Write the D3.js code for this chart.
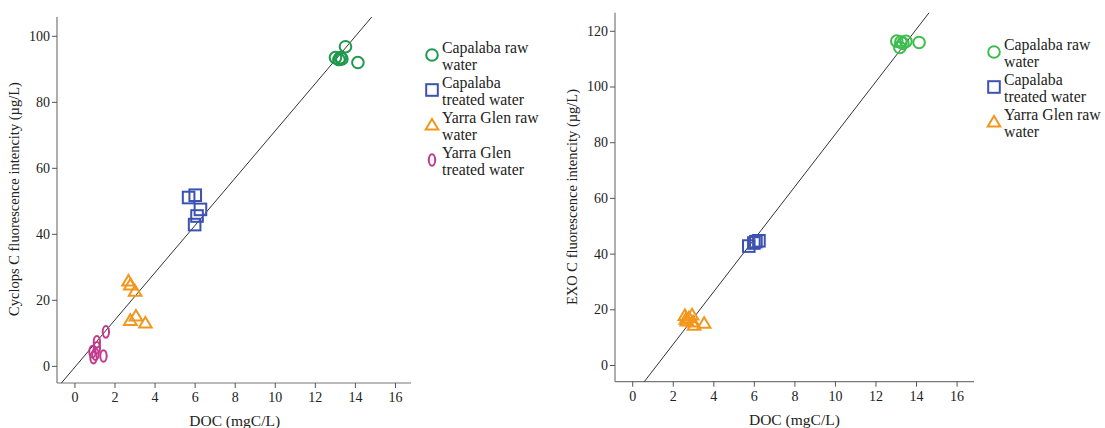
<!DOCTYPE html>
<html><head><meta charset="utf-8">
<script src="https://cdn.jsdelivr.net/npm/d3@7"></script>
<style>body{margin:0;background:#fff}svg{display:block}text{font-family:"Liberation Serif","Times New Roman",serif;fill:#222}</style>
</head><body><svg id="c" width="1105" height="428"></svg>
<script>
// ---- data ----
const xTicks = [0,2,4,6,8,10,12,14,16];
const cyclopsYTicks = [0,20,40,60,80,100];
const exoYTicks = [0,20,40,60,80,100,120];

const cycCapRaw = [[13.03,93.4],[13.2,92.8],[13.28,93.4],[13.35,93.0],[13.53,96.7],[14.15,91.9]];
const cycCapTreated = [[5.7,51.0],[6.03,51.7],[6.29,47.4],[6.12,45.4],[6.0,42.8]];
const cycYGRaw = [[2.7,25.7],[2.79,24.5],[3.03,22.6],[2.79,13.8],[3.07,15.1],[3.54,13.0]];
const cycYGTreated = [[1.57,10.3],[1.12,7.3],[1.12,5.5],[0.9,4.3],[1.05,3.5],[0.95,2.5],[1.45,3.0]];
const cycFit = [7.16,-0.55]; // slope, intercept

const exoCapRaw = [[13.05,116.3],[13.25,116.0],[13.5,116.2],[13.2,114.0],[13.35,115.5],[14.15,115.8]];
const exoCapTreated = [[5.75,42.7],[6.0,43.8],[6.1,44.3],[6.25,44.6]];
const exoYGRaw = [[2.6,17.8],[2.65,16.5],[2.7,15.8],[2.8,17.0],[2.95,18.0],[3.0,15.5],[3.05,14.3],[3.55,15.0]];
const exoFit = [9.43,-11.6];

const svg = d3.select("#c");
const FONT = '"Liberation Serif","Times New Roman",serif';

function panel(o){
  const g = svg.append("g");
  const x = d3.scaleLinear().domain(o.xd).range([o.left,o.right]);
  const y = d3.scaleLinear().domain(o.yd).range([o.bottom,o.top]);
  const id = "clip"+o.id;
  svg.append("clipPath").attr("id",id).append("rect")
    .attr("x",o.left).attr("y",o.top).attr("width",o.right-o.left).attr("height",o.bottom-o.top);
  // axes
  const xa = g.append("g").attr("transform",`translate(0,${o.bottom})`)
    .call(d3.axisBottom(x).tickValues(xTicks).tickSize(5).tickSizeOuter(0).tickPadding(4));
  const ya = g.append("g").attr("transform",`translate(${o.left},0)`)
    .call(d3.axisLeft(y).tickValues(o.yTicks).tickSize(5).tickSizeOuter(0).tickPadding(2));
  [xa,ya].forEach(a=>{
    a.select(".domain").attr("stroke","#777").attr("stroke-width",1.2);
    a.selectAll(".tick line").attr("stroke","#555").attr("stroke-width",1);
    a.selectAll("text").attr("font-family",FONT).attr("font-size",14).attr("fill","#222");
  });
  xa.select(".domain").attr("d",`M${o.left},0H${o.right}`);
  ya.select(".domain").attr("d",`M0,${o.top}V${o.bottom}`);
  // titles
  g.append("text").attr("x",(x(0)+x(16))/2+o.xtOff).attr("y",o.bottom+43)
    .attr("text-anchor","middle").attr("font-size",15.5).text("DOC (mgC/L)");
  g.append("text").attr("transform",`translate(${o.ytx},${o.ytc}) rotate(-90)`)
    .attr("text-anchor","middle").attr("font-size",14.5).text(o.ytitle);
  // fit line
  const [m,b] = o.fit;
  g.append("line").attr("clip-path",`url(#${id})`)
    .attr("x1",x(o.xd[0])).attr("y1",y(m*o.xd[0]+b))
    .attr("x2",x(o.xd[1])).attr("y2",y(m*o.xd[1]+b))
    .attr("stroke","#333").attr("stroke-width",1);
  // points
  o.series.forEach(s=>{
    s.data.forEach(d=>drawMarker(g,s.shape,x(d[0]),y(d[1]),s.color));
  });
  // legend
  o.series.forEach((s,i)=>{
    const yy = o.legY[i];
    drawMarker(g,s.shape,o.legX,yy,s.color);
    s.label.forEach((t,j)=>{
      g.append("text").attr("x",o.legX+10).attr("y",yy-2+j*16.5)
        .attr("font-size",15.8).text(t);
    });
  });
}

function drawMarker(g,shape,cx,cy,color){
  const sw=2;
  if(shape==="circle"){
    g.append("circle").attr("cx",cx).attr("cy",cy).attr("r",5.8)
      .attr("fill","none").attr("stroke",color).attr("stroke-width",sw);
  } else if(shape==="square"){
    g.append("rect").attr("x",cx-5.8).attr("y",cy-5.8).attr("width",11.6).attr("height",11.6)
      .attr("fill","none").attr("stroke",color).attr("stroke-width",sw);
  } else if(shape==="triangle"){
    g.append("path").attr("d",`M${cx},${cy-6}L${cx+6.3},${cy+4.6}L${cx-6.3},${cy+4.6}Z`)
      .attr("fill","none").attr("stroke",color).attr("stroke-width",sw);
  } else {
    g.append("ellipse").attr("cx",cx).attr("cy",cy).attr("rx",3.2).attr("ry",5.8)
      .attr("fill","none").attr("stroke",color).attr("stroke-width",sw);
  }
}

panel({id:"a",left:57,right:411,top:17,bottom:383,xd:[-0.87,16.8],yd:[-5.2,105.7],
  yTicks:cyclopsYTicks,fit:cycFit,ytx:19,ytc:199,xtOff:0,
  ytitle:"Cyclops C fluorescence intencity (µg/L)",
  legX:432,legY:[55,90,125,160],
  series:[
    {data:cycCapRaw,shape:"circle",color:"#1f9a4c",label:["Capalaba raw","water"]},
    {data:cycCapTreated,shape:"square",color:"#3b52b2",label:["Capalaba","treated water"]},
    {data:cycYGRaw,shape:"triangle",color:"#f2961c",label:["Yarra Glen raw","water"]},
    {data:cycYGTreated,shape:"ellipse",color:"#c23a8c",label:["Yarra Glen","treated water"]}
  ]});

panel({id:"b",left:615,right:974,top:12.7,bottom:381.7,xd:[-0.85,16.86],yd:[-6.0,126.5],
  yTicks:exoYTicks,fit:exoFit,ytx:577,ytc:197,xtOff:0,
  ytitle:"EXO C fluorescence intencity (µg/L)",
  legX:994,legY:[52,87,122],
  series:[
    {data:exoCapRaw,shape:"circle",color:"#3cbd4e",label:["Capalaba raw","water"]},
    {data:exoCapTreated,shape:"square",color:"#3b52b2",label:["Capalaba","treated water"]},
    {data:exoYGRaw,shape:"triangle",color:"#f2961c",label:["Yarra Glen raw","water"]}
  ]});
</script></body></html>
